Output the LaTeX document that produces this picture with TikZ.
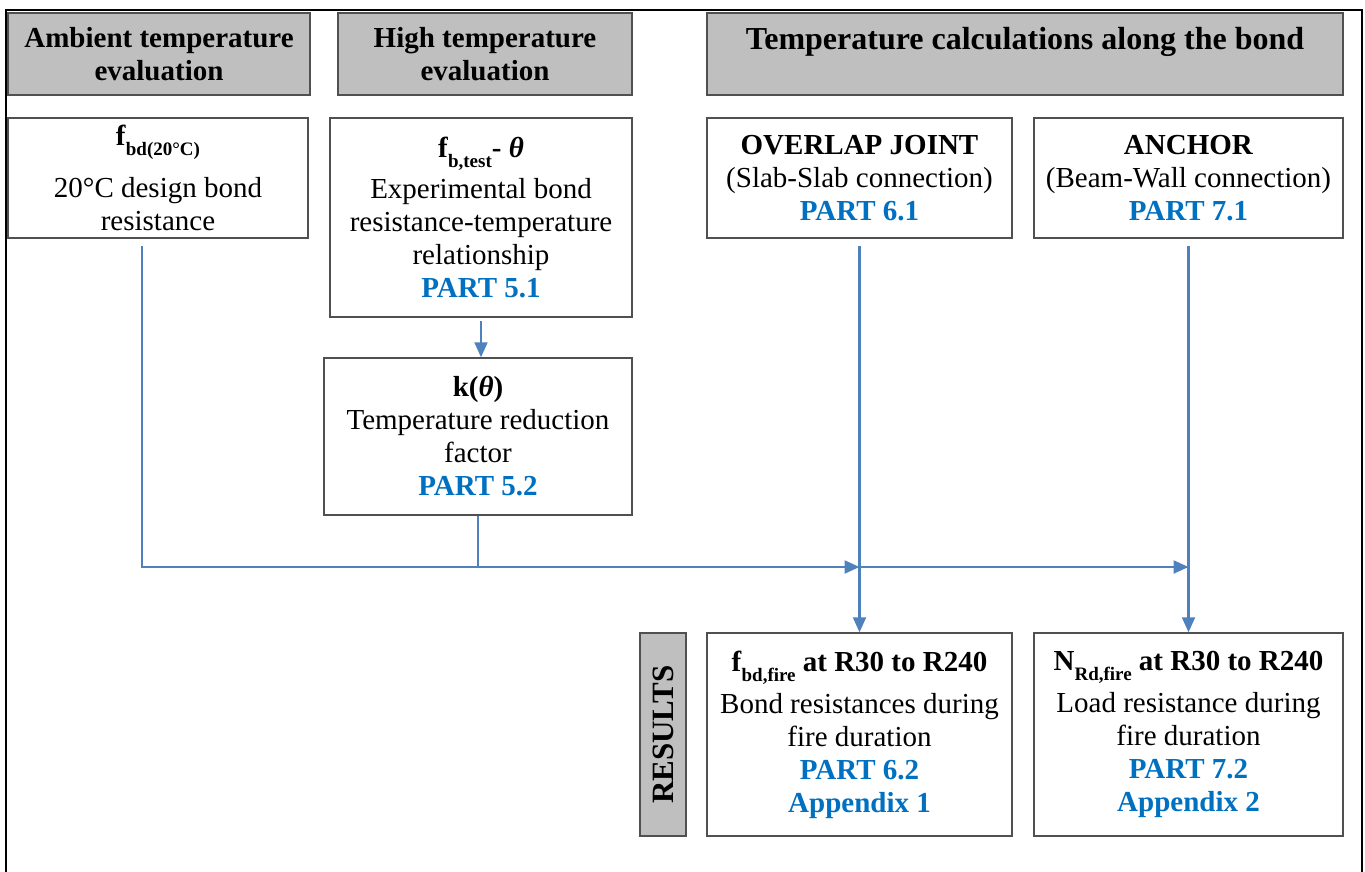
\documentclass[tikz,border=0pt]{standalone}
\usepackage{fontspec}
\setmainfont{Liberation Serif}
\usetikzlibrary{arrows.meta}
\definecolor{boxgray}{HTML}{BFBFBF}
\definecolor{edgegray}{HTML}{505050}
\definecolor{partblue}{HTML}{0070C0}
\definecolor{linkblue}{HTML}{4F81BD}
\newcommand{\lowsub}[1]{\raisebox{-10pt}{\fontsize{19}{20}\selectfont\bfseries #1}}
\newcommand{\partref}[1]{\textcolor{partblue}{\bfseries #1}}

\begin{document}
\begin{tikzpicture}[x=1pt, y=-1pt, >={Triangle[length=15pt,width=13pt]},
  every node/.style={font=\fontsize{29}{33}\selectfont, align=center, inner sep=0pt},
  head/.style={draw=edgegray, line width=1.5pt, fill=boxgray, font=\fontsize{29}{33}\selectfont\bfseries, minimum height=82pt},
  item/.style={draw=edgegray, line width=1.5pt, fill=white},
  link/.style={draw=linkblue, line width=2.2pt}]
  \useasboundingbox (0,0) rectangle (1365,872);
  \draw[line width=2.5pt] (6,880) -- (6,10) -- (1362,10) -- (1362,880);

  \node[head, minimum width=302pt] (hAmb) at (159,54) {Ambient temperature\\evaluation};
  \node[head, minimum width=294pt] (hHigh) at (485,54) {High temperature\\evaluation};
  \node[head, minimum width=636pt] (hCalc) at (1025,54)
    {\fontsize{32}{36}\selectfont Temperature calculations along the bond\\[-12pt]\strut};

  \node[item, minimum width=300pt, minimum height=120pt] (ambBox) at (158,178)
    {\textbf{f}\lowsub{bd(20°C)}\\[17pt]20°C design bond\\resistance};
  \node[item, minimum width=302pt, minimum height=199pt] (testBox) at (481,217.5)
    {\textbf{f}\lowsub{b,test}\textbf{- \textit{θ}}\\[6pt]Experimental bond\\resistance-temperature\\relationship\\\partref{PART 5.1}};
  \node[item, minimum width=308pt, minimum height=157pt] (kBox) at (478,436.5)
    {\textbf{k(\textit{θ})}\\Temperature reduction\\factor\\\partref{PART 5.2}};
  \node[item, minimum width=305pt, minimum height=120pt] (ovBox) at (859.5,178)
    {\textbf{OVERLAP JOINT}\\(Slab-Slab connection)\\\partref{PART 6.1}};
  \node[item, minimum width=309pt, minimum height=120pt] (anBox) at (1188.5,178)
    {\textbf{ANCHOR}\\(Beam-Wall connection)\\\partref{PART 7.1}};

  \node[head, rotate=90, minimum width=203pt, minimum height=46pt,
    font=\fontsize{31}{33}\selectfont\bfseries] (resBox) at (663,734.5) {RESULTS};
  \node[item, minimum width=305pt, minimum height=203pt] (fireBox) at (859.5,734.5)
    {\textbf{f}\lowsub{bd,fire}\textbf{ at R30 to R240}\\[8pt]Bond resistances during\\fire duration\\\partref{PART 6.2}\\\partref{Appendix 1}};
  \node[item, minimum width=309pt, minimum height=203pt] (loadBox) at (1188.5,734.5)
    {\textbf{N}\lowsub{Rd,fire}\textbf{ at R30 to R240}\\[8pt]Load resistance during\\fire duration\\\partref{PART 7.2}\\\partref{Appendix 2}};

  \coordinate (ovJoin) at (ovBox.south |- 0,567);
  \coordinate (anJoin) at (anBox.south |- 0,567);
  \draw[link,->] ([yshift=-3pt]testBox.south) -- (testBox.south |- kBox.north);
  \draw[link,->] ([xshift=-16pt,yshift=-7pt]ambBox.south) |- (ovJoin);
  \draw[link] (kBox.south) -- (kBox.south |- ovJoin);
  \draw[link,->] (ovJoin) -- (anJoin);
  \draw[link,->] ([yshift=-7pt]ovBox.south) -- (fireBox.north);
  \draw[link,->] ([yshift=-7pt]anBox.south) -- (loadBox.north);
\end{tikzpicture}
\end{document}
